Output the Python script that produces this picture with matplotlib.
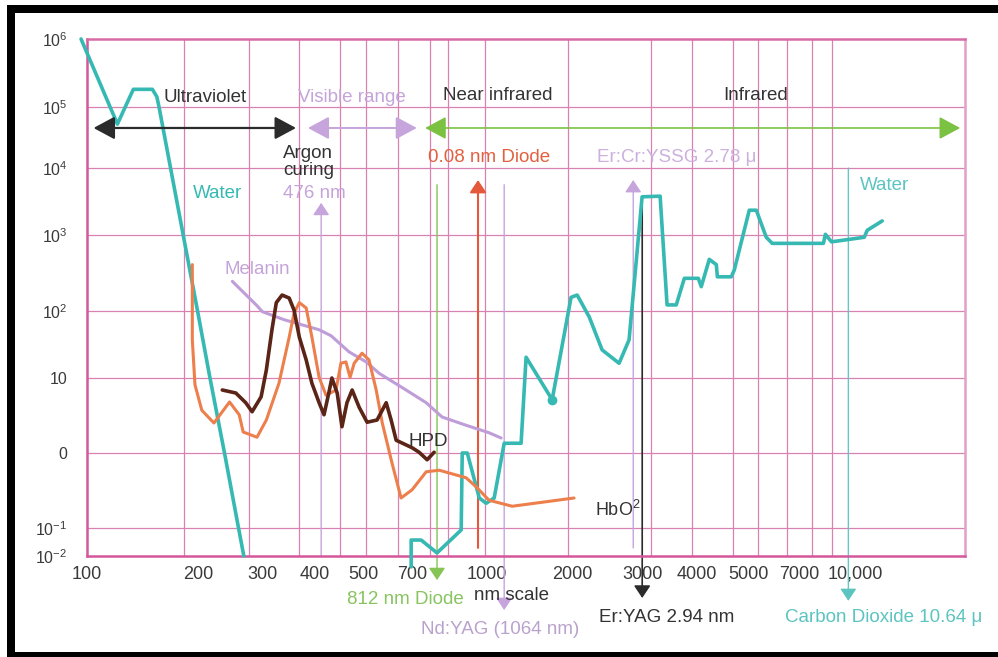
import numpy as np
import matplotlib
matplotlib.use("Agg")
import matplotlib.pyplot as plt
from matplotlib.patches import Rectangle

plt.rcParams['font.family'] = ['Liberation Sans', 'DejaVu Sans']
plt.rcParams['mathtext.fontset'] = 'custom'
plt.rcParams['mathtext.rm'] = 'Liberation Sans'
plt.rcParams['mathtext.it'] = 'Liberation Sans:italic'
plt.rcParams['mathtext.bf'] = 'Liberation Sans:bold'

# wavelength (nm) and absorption given as log10 of the coefficient
water_uv_nm = [96.5, 120, 132, 148, 152, 154, 165, 178, 194, 209, 228, 248, 256]
water_uv_log = [6.0, 4.72, 5.26, 5.26, 5.15, 5.0, 4.0, 3.0, 2.0, 1.0, 0.0, -1.0, -2.0]

water_ir_nm = [698, 698, 741, 815, 942, 948, 977, 1050, 1094, 1148, 1219, 1349, 1390,
               1625, 1820, 1888, 2030, 2192, 2427, 2577, 2786, 3104, 3236, 3419, 3589,
               3902, 3972, 4168, 4347, 4375, 4755, 4842, 5297, 5525, 5864, 6078, 8260,
               8360, 8670, 10550, 10740, 11750]
water_ir_log = [-2.39, -1.43, -1.43, -1.89, -1.07, 0.0, 0.0, -0.6, -0.67, -0.6, 0.13, 0.13, 1.31,
                0.71, 2.18, 2.21, 1.91, 1.42, 1.22, 1.57, 3.57, 3.58, 2.08, 2.08, 2.43,
                2.43, 2.32, 2.68, 2.61, 2.45, 2.45, 2.54, 3.37, 3.37, 2.97, 2.89, 2.89,
                3.01, 2.91, 2.97, 3.07, 3.21]
water_dot_nm, water_dot_log = 1625, 0.71

melanin_nm = [239, 277, 286, 326, 402, 432, 481, 533, 576, 677, 764, 840, 970, 1113, 1197]
melanin_log = [2.39, 2.07, 1.99, 1.87, 1.72, 1.63, 1.39, 1.24, 1.07, 0.84, 0.67, 0.48, 0.37, 0.27, 0.2]

hbo2_nm = [188, 188, 191, 199, 214, 235, 249, 255, 277, 293, 316, 336, 346, 357, 372, 385,
           402, 419, 445, 458, 472, 484, 496, 520, 542, 566, 587, 622, 657, 702, 764, 826,
           970, 1030, 1113, 1279, 1853]
hbo2_log = [2.61, 1.57, 0.91, 0.57, 0.4, 0.68, 0.51, 0.28, 0.21, 0.44, 0.93, 1.61, 1.97, 2.11,
            2.04, 1.61, 1.01, 0.77, 0.84, 1.22, 1.24, 1.01, 1.22, 1.37, 1.27, 0.84, 0.4, -0.13,
            -0.6, -0.49, -0.25, -0.23, -0.33, -0.45, -0.63, -0.71, -0.6]

hpd_nm = [225, 244, 259, 269, 284, 293, 303, 311, 322, 336, 346, 357, 372, 385, 402, 414,
          426, 434, 448, 461, 475, 490, 511, 536, 569, 601, 619, 638, 702, 732, 768, 801]
hpd_log = [0.84, 0.8, 0.67, 0.55, 0.75, 1.12, 1.72, 2.11, 2.21, 2.17, 2.01, 1.61, 1.27, 0.93,
           0.67, 0.51, 0.8, 1.0, 0.8, 0.35, 0.67, 0.84, 0.61, 0.41, 0.44, 0.67, 0.44, 0.17,
           0.07, 0.01, -0.09, 0.01]

# laser lines: wavelength, start, arrow tip (log10 units)
laser_nm = [407, 815, 1042, 1219, 2642, 2788, 9590]
laser_from = [-2.0, 3.75, -1.71, 3.75, -1.71, 3.45, 4.0]
laser_to = [3.48, -2.86, 3.82, -3.93, 3.82, -3.5, -3.6]
laser_color = ['#c6a4dc', '#86c455', '#e5583a', '#c6a4dc', '#c6a4dc', '#2b2b2b', '#5cc4c0']
laser_lw = [1.0, 1.0, 1.5, 1.0, 1.0, 1.2, 0.9]

# spectral ranges shown as double arrows
range_start = [104, 376, 759]
range_end = [350, 722, 18750]
range_color = ['#2b2b2b', '#c6a4dc', '#7cc242']
range_lw = [1.6, 1.4, 1.2]
range_level = 4.656

# the drawn scale is not quite logarithmic: labels sit where the original put them
x_tick_pos = [100, 195, 286, 392, 523, 702, 1101, 1832, 2788, 3877, 5264, 7145, 10000]
x_labels = ['100', '200', '300', '400', '500', '700', '1000', '2000', '3000', '4000',
            '5000', '7000', '10,000']
y_ticks = [-2, -1, 0, 1, 2, 3, 4, 5, 6]
y_labels = ['$10^{-2}$', '$10^{-1}$', '0', '10', '$10^{2}$', '$10^{3}$', '$10^{4}$',
            '$10^{5}$', '$10^{6}$']
grid_nm = [179, 264, 357, 456, 533, 645, 782, 871, 1087, 1789, 2944, 3763, 4808, 5585,
           6650, 7727, 8710]

# hand drawn, uneven spacing between decades
EXP_STEPS = np.array([-4, -3, -2, -1, 0, 1, 2, 3, 4, 5, 6, 7])
EXP_HEIGHT = np.array([-56, -28, 0, 28, 103, 178, 245, 321, 388, 449, 517, 585])


def fwd(v):
    return np.interp(v, EXP_STEPS, EXP_HEIGHT)


def inv(h):
    return np.interp(h, EXP_HEIGHT, EXP_STEPS)


W, H = 998, 657
fig = plt.figure(figsize=(W / 100, H / 100), dpi=100)
ax = fig.add_axes([87 / W, 1 - 556 / H, 878 / W, 517 / H])
ax.set_xscale('log')
ax.set_yscale('function', functions=(fwd, inv))
ax.set_xlim(100, 19300)
ax.set_ylim(-2, 6)

pink = '#d4579c'
grid_pink = '#d982b2'
for g in grid_nm:
    ax.axvline(g, color=grid_pink, lw=0.9, zorder=0.5)
for e in range(-1, 6):
    ax.axhline(e, color=grid_pink, lw=0.9, zorder=0.5)
for s in ax.spines.values():
    s.set_color(pink)
    s.set_linewidth(1.8)
ax.spines['right'].set_color('#e3a0c4')
ax.spines['top'].set_color('#d86aa6')

ax.set_xticks(x_tick_pos)
ax.set_xticklabels(x_labels)
ax.xaxis.set_minor_locator(matplotlib.ticker.NullLocator())
ax.set_yticks(y_ticks)
ax.set_yticklabels(y_labels)
ax.yaxis.set_minor_locator(matplotlib.ticker.NullLocator())
ax.tick_params(axis='x', length=0, pad=7, labelsize=13, labelcolor='#3a3a3a')
ax.tick_params(axis='y', length=0, pad=14, labelsize=11.5, labelcolor='#3a3a3a')

teal = '#36b9b2'
line_kw = dict(solid_joinstyle='round', solid_capstyle='round', clip_on=False, zorder=3)
ax.plot(water_uv_nm, water_uv_log, color=teal, lw=2.6, **line_kw)
ax.plot(water_ir_nm, water_ir_log, color=teal, lw=2.6, **line_kw)
ax.plot(water_dot_nm, water_dot_log, 'o', color=teal, ms=6, zorder=3)
ax.plot(melanin_nm, melanin_log, color='#bf9dd8', lw=2.2, **line_kw)
ax.plot(hbo2_nm, hbo2_log, color='#ec7f4c', lw=2.2, **line_kw)
ax.plot(hpd_nm, hpd_log, color='#5a2416', lw=2.6, **line_kw)

for nm, y0, y1, c, lw in zip(laser_nm, laser_from, laser_to, laser_color, laser_lw):
    ax.annotate('', xy=(nm, y1), xytext=(nm, y0), annotation_clip=False, zorder=2,
                arrowprops=dict(arrowstyle='-|>,head_width=0.5,head_length=0.75',
                                mutation_scale=10, color=c, lw=lw,
                                shrinkA=0, shrinkB=0))

for x0, x1, c, lw in zip(range_start, range_end, range_color, range_lw):
    ax.annotate('', xy=(x1, range_level), xytext=(x0, range_level), annotation_clip=False,
                zorder=4,
                arrowprops=dict(arrowstyle='<|-|>,head_width=0.7,head_length=1.3',
                                mutation_scale=10, color=c, lw=lw,
                                shrinkA=0, shrinkB=0))

dark = '#333333'
lav = '#c4a4da'


def label(px, py, s, color=dark, ha='center', size=13.5, **kw):
    fig.text(px / W, 1 - py / H, s, color=color, ha=ha, va='center', fontsize=size, **kw)


label(205, 98, 'Ultraviolet')
label(352, 97, 'Visible range', color=lav)
label(498, 96, 'Near infrared')
label(756, 95, 'Infrared')
label(283, 162, 'Argon\ncuring', ha='left', linespacing=1.05)
label(283, 193, '476 nm', color=lav, ha='left')
label(218, 193, 'Water', color=teal)
label(257, 270, 'Melanin', color=lav)
label(428, 158, '0.08 nm Diode', color='#e3603f', ha='left')
label(597, 158, 'Er:Cr:YSSG 2.78 \u03bc', color='#ccb0de', ha='left')
label(885, 186, 'Water', color='#5cc4c0')
label(428, 441, 'HPD')
label(595, 510, 'HbO$^2$', ha='left', size=13)
label(405, 600, '812 nm Diode', color='#88c460')
label(512, 595, 'nm scale')
label(500, 630, 'Nd:YAG (1064 nm)', color='#b9a2cc')
label(667, 617, 'Er:YAG 2.94 nm')
label(884, 617, 'Carbon Dioxide 10.64 \u03bc', color='#5cc4c0')

# black frame of the scanned figure
fig.add_artist(Rectangle((7 / W, 1 - 13 / H), 991 / W, 8 / H, transform=fig.transFigure,
                         color='black', lw=0))
fig.add_artist(Rectangle((7 / W, 0), 8 / W, 1 - 5 / H, transform=fig.transFigure,
                         color='black', lw=0))
fig.add_artist(Rectangle((7 / W, 0), 991 / W, 5 / H, transform=fig.transFigure,
                         color='black', lw=0))

fig.savefig('out.png', dpi=100, facecolor='white')
